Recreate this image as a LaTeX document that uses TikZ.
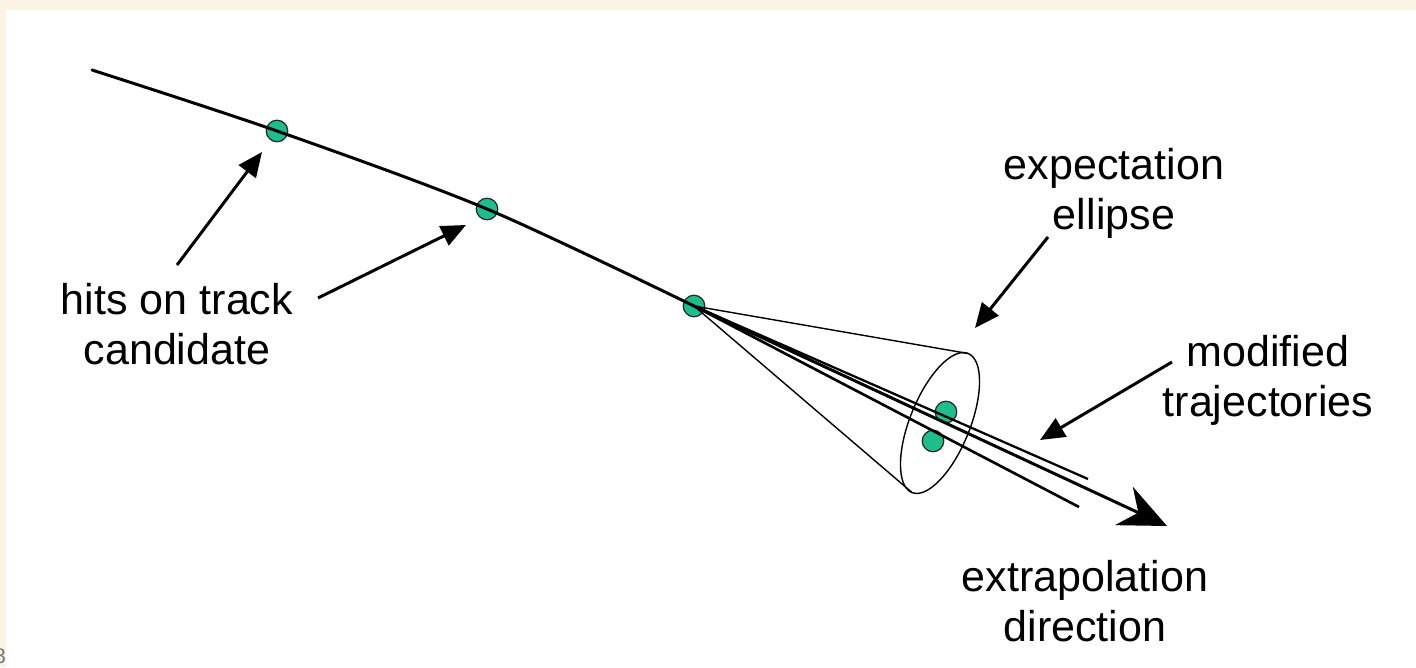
\documentclass[tikz,border=0pt]{standalone}
\usepackage{fontspec}
\setmainfont{Liberation Sans}
\usetikzlibrary{arrows.meta}
\definecolor{paper}{RGB}{251,243,228}
\definecolor{hitgreen}{RGB}{30,190,140}
\begin{document}
\begin{tikzpicture}[x=0.02cm,y=0.02cm,
  hit/.style={circle,draw=black!85,line width=0.7pt,fill=hitgreen,
    minimum size=0.43cm,inner sep=0pt},
  caption/.style={font=\fontsize{24.5}{28.5}\selectfont,align=center,inner sep=0pt},
  pointer/.style={line width=1.7pt,-{Triangle[length=14pt,width=12pt]}},
  track/.style={line width=1.7pt,line cap=round},
  coneline/.style={line width=0.8pt},
  trajectory/.style={line width=1.5pt}]

% slide background and white panel
\fill[paper] (0,0) rectangle (1416,667);
\fill[white] (6,0) rectangle (1416,657);
\useasboundingbox (0,0) rectangle (1416,667);
\node[text=black!55,font=\fontsize{12}{14}\selectfont,anchor=south] (pg) at (0,-3) {8};

% hits along the track
\node[hit] (h1) at (277,536) {};
\node[hit] (h2) at (487,458) {};
\node[hit] (h3) at (694,361) {};
\node[hit] (h4) at (946,255) {};
\node[hit] (h5) at (933,226) {};

% fitted track
\coordinate (start) at (92,597);
\draw[track] plot[smooth,tension=0.5] coordinates
  {(start) (h1.center) (h2.center) (h3.center)};

% expectation cone with its ellipse
\coordinate (ec) at (940,244);
\coordinate (etop) at (968,313.5);
\coordinate (ebot) at (912,174.5);
\draw[coneline,rotate around={68:(ec)}] (ec) ellipse [x radius=75,y radius=30];
\draw[coneline] (h3.center) -- (etop);
\draw[coneline] (h3.center) -- (ebot);

% modified trajectories and extrapolation direction
\coordinate (t1) at (1088,188);
\coordinate (t2) at (1079,160);
\coordinate (tip) at (1167,141);
\draw[trajectory,line width=1.3pt] (h3.center) -- (t1);
\draw[trajectory] (h3.center) -- (t2);
\draw[track,line cap=butt,-{Stealth[length=27pt,width=24pt,inset=9pt]}] (h3.center) -- (tip);

% labels
\node[caption] (lhits) at (177,343) {hits on track\\candidate};
\node[caption] (lell) at (1114,474) {expectation\\ellipse};
\node[caption] (lmod) at (1268,287) {modified\\trajectories};
\node[caption] (lext) at (1085,66) {extrapolation\\direction};

% pointers from labels
\coordinate (p1s) at (177,402);
\coordinate (p1e) at (262,515);
\coordinate (p2s) at (318,369);
\coordinate (p2e) at (466,442);
\coordinate (p3s) at (1048,430);
\coordinate (p3e) at (975,339);
\coordinate (p4s) at (1172,305);
\coordinate (p4e) at (1040,227);
\draw[pointer] (p1s) -- (p1e);
\draw[pointer] (p2s) -- (p2e);
\draw[pointer] (p3s) -- (p3e);
\draw[pointer] (p4s) -- (p4e);
\end{tikzpicture}
\end{document}
